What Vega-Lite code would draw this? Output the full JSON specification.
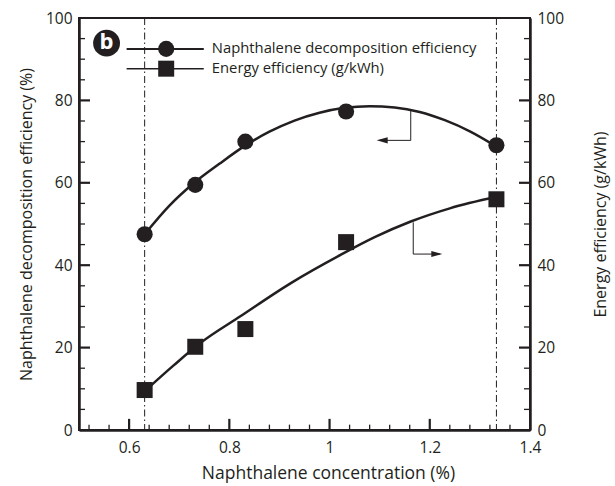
{
  "$schema": "https://vega.github.io/schema/vega-lite/v6.json",
  "width": 451,
  "height": 412,
  "autosize": "none",
  "padding": {"left": 79, "top": 18, "right": 85, "bottom": 56},
  "background": "white",
  "config": {
    "view": {"stroke": "#231f20", "strokeWidth": 2},
    "font": "Open Sans",
    "axis": {"labelFont": "Open Sans", "titleFont": "Open Sans", "labelColor": "#231f20", "titleColor": "#231f20", "titleFontWeight": "normal", "domainColor": "#231f20", "domainWidth": 2.5, "grid": false, "labelOverlap": false, "ticks": false}
  },
  "datasets": {
    "points": [
      {"conc": 0.631, "value": 47.5, "series": "Naphthalene decomposition efficiency"},
      {"conc": 0.732, "value": 59.5, "series": "Naphthalene decomposition efficiency"},
      {"conc": 0.832, "value": 70.0, "series": "Naphthalene decomposition efficiency"},
      {"conc": 1.033, "value": 77.3, "series": "Naphthalene decomposition efficiency"},
      {"conc": 1.333, "value": 69.1, "series": "Naphthalene decomposition efficiency"},
      {"conc": 0.631, "value": 9.7, "series": "Energy efficiency (g/kWh)"},
      {"conc": 0.732, "value": 20.2, "series": "Energy efficiency (g/kWh)"},
      {"conc": 0.832, "value": 24.5, "series": "Energy efficiency (g/kWh)"},
      {"conc": 1.033, "value": 45.6, "series": "Energy efficiency (g/kWh)"},
      {"conc": 1.333, "value": 56.0, "series": "Energy efficiency (g/kWh)"}
    ],
    "fitDecomp": [
      {"conc": 0.631, "value": 47.5}, {"conc": 0.68, "value": 54.4}, {"conc": 0.73, "value": 60.0},
      {"conc": 0.78, "value": 64.6}, {"conc": 0.83, "value": 68.9}, {"conc": 0.88, "value": 72.4},
      {"conc": 0.93, "value": 75.1}, {"conc": 0.98, "value": 77.0}, {"conc": 1.03, "value": 78.2},
      {"conc": 1.08, "value": 78.6}, {"conc": 1.13, "value": 78.3}, {"conc": 1.18, "value": 77.2},
      {"conc": 1.23, "value": 75.2}, {"conc": 1.28, "value": 72.5}, {"conc": 1.333, "value": 68.8}
    ],
    "fitEnergy": [
      {"conc": 0.631, "value": 9.4}, {"conc": 0.69, "value": 15.8}, {"conc": 0.742, "value": 21.1},
      {"conc": 0.822, "value": 27.6}, {"conc": 0.922, "value": 35.6}, {"conc": 1.022, "value": 42.5},
      {"conc": 1.09, "value": 46.8}, {"conc": 1.162, "value": 50.6}, {"conc": 1.24, "value": 53.8},
      {"conc": 1.333, "value": 56.6}
    ],
    "refs": [{"conc": 0.631}, {"conc": 1.333}],
    "yTicks": [
      {"v": 5, "major": false}, {"v": 10, "major": false}, {"v": 15, "major": false}, {"v": 20, "major": true},
      {"v": 25, "major": false}, {"v": 30, "major": false}, {"v": 35, "major": false}, {"v": 40, "major": true},
      {"v": 45, "major": false}, {"v": 50, "major": false}, {"v": 55, "major": false}, {"v": 60, "major": true},
      {"v": 65, "major": false}, {"v": 70, "major": false}, {"v": 75, "major": false}, {"v": 80, "major": true},
      {"v": 85, "major": false}, {"v": 90, "major": false}, {"v": 95, "major": false}
    ],
    "xTicks": [
      {"v": 0.52, "major": false}, {"v": 0.56, "major": false}, {"v": 0.6, "major": true}, {"v": 0.64, "major": false},
      {"v": 0.68, "major": false}, {"v": 0.72, "major": false}, {"v": 0.76, "major": false}, {"v": 0.8, "major": true},
      {"v": 0.84, "major": false}, {"v": 0.88, "major": false}, {"v": 0.92, "major": false}, {"v": 0.96, "major": false},
      {"v": 1.0, "major": true}, {"v": 1.04, "major": false}, {"v": 1.08, "major": false}, {"v": 1.12, "major": false},
      {"v": 1.16, "major": false}, {"v": 1.2, "major": true}, {"v": 1.24, "major": false}, {"v": 1.28, "major": false},
      {"v": 1.32, "major": false}, {"v": 1.36, "major": false}
    ],
    "arrowRules": [
      {"x": 1.162, "x2": 1.162, "y": 77.7, "y2": 70.3},
      {"x": 1.162, "x2": 1.1, "y": 70.3, "y2": 70.3},
      {"x": 1.167, "x2": 1.167, "y": 50.4, "y2": 42.7},
      {"x": 1.167, "x2": 1.22, "y": 42.7, "y2": 42.7}
    ],
    "legendRows": [
      {"x": 0.595, "x2": 0.749, "y": 92.5, "sx": 0.674, "label": "Naphthalene decomposition efficiency", "w": 2},
      {"x": 0.595, "x2": 0.749, "y": 87.7, "sx": 0.674, "label": "Energy efficiency (g/kWh)", "w": 1.5}
    ]
  },
  "resolve": {"axis": {"y": "independent"}},
  "layer": [
    {
      "data": {"name": "refs"},
      "mark": {"type": "rule", "color": "#231f20", "strokeWidth": 1, "strokeDash": [7, 3, 1.5, 3]},
      "encoding": {
        "x": {"field": "conc", "type": "quantitative", "scale": {"domain": [0.5, 1.4], "nice": false, "zero": false},
          "title": "Naphthalene concentration (%)",
          "axis": {
            "values": [0.6, 0.8, 1.0, 1.2, 1.4],
            "tickCount": 100, "ticks": false, "labelOverlap": false,
            "labelExpr": "toString(round(datum.value*10)/10)",
            "labelPadding": 10, "labelFontSize": 15.5, "labelBaseline": "top", "labelFlush": false,
            "titleFontSize": 17.5, "titleX": 249, "titleY": 43, "titleBaseline": "middle", "titleAlign": "center"
          }}
      }
    },
    {
      "data": {"name": "fitDecomp"},
      "mark": {"type": "line", "color": "#231f20", "strokeWidth": 2.5, "interpolate": "monotone"},
      "encoding": {
        "x": {"field": "conc", "type": "quantitative"},
        "y": {"field": "value", "type": "quantitative", "scale": {"domain": [0, 100], "nice": false},
          "title": "Naphthalene decomposition efficiency (%)",
          "axis": {
            "orient": "left", "ticks": false, "tickCount": 100, "labelOverlap": false,
            "values": [0, 20, 40, 60, 80, 100],
            "labelPadding": 7, "labelFontSize": 15.5, "labelFlush": false,
            "titleFontSize": 16, "titleX": -53, "titleY": 206, "titleAngle": -90, "titleAlign": "center", "titleBaseline": "middle"
          }}
      }
    },
    {
      "data": {"name": "fitEnergy"},
      "mark": {"type": "line", "color": "#231f20", "strokeWidth": 2.5, "interpolate": "monotone"},
      "encoding": {
        "x": {"field": "conc", "type": "quantitative"},
        "y": {"field": "value", "type": "quantitative", "scale": {"domain": [0, 100], "nice": false},
          "title": "Energy efficiency (g/kWh)",
          "axis": {
            "orient": "right", "ticks": false, "tickCount": 100, "labelOverlap": false,
            "values": [0, 20, 40, 60, 80, 100],
            "labelPadding": 7, "labelFontSize": 15.5, "labelFlush": false,
            "titleFontSize": 16, "titleX": 70, "titleY": 206, "titleAngle": -90, "titleAlign": "center", "titleBaseline": "middle"
          }}
      }
    },
    {
      "data": {"name": "yTicks"},
      "transform": [{"filter": "datum.major"}],
      "mark": {"type": "rule", "color": "#231f20", "strokeWidth": 2.2},
      "encoding": {
        "x": {"datum": 0.5, "type": "quantitative"},
        "x2": {"datum": 0.522},
        "y": {"field": "v", "type": "quantitative", "axis": null}
      }
    },
    {
      "data": {"name": "yTicks"},
      "transform": [{"filter": "!datum.major"}],
      "mark": {"type": "rule", "color": "#231f20", "strokeWidth": 1.3},
      "encoding": {
        "x": {"datum": 0.5, "type": "quantitative"},
        "x2": {"datum": 0.512},
        "y": {"field": "v", "type": "quantitative", "axis": null}
      }
    },
    {
      "data": {"name": "yTicks"},
      "transform": [{"filter": "datum.major"}],
      "mark": {"type": "rule", "color": "#231f20", "strokeWidth": 2.2},
      "encoding": {
        "x": {"datum": 1.4, "type": "quantitative"},
        "x2": {"datum": 1.378},
        "y": {"field": "v", "type": "quantitative", "axis": null}
      }
    },
    {
      "data": {"name": "yTicks"},
      "transform": [{"filter": "!datum.major"}],
      "mark": {"type": "rule", "color": "#231f20", "strokeWidth": 1.3},
      "encoding": {
        "x": {"datum": 1.4, "type": "quantitative"},
        "x2": {"datum": 1.388},
        "y": {"field": "v", "type": "quantitative", "axis": null}
      }
    },
    {
      "data": {"name": "xTicks"},
      "transform": [{"filter": "datum.major"}],
      "mark": {"type": "rule", "color": "#231f20", "strokeWidth": 2.2},
      "encoding": {
        "x": {"field": "v", "type": "quantitative"},
        "y": {"datum": 0, "type": "quantitative", "axis": null},
        "y2": {"datum": 2.7}
      }
    },
    {
      "data": {"name": "xTicks"},
      "transform": [{"filter": "!datum.major"}],
      "mark": {"type": "rule", "color": "#231f20", "strokeWidth": 1.3},
      "encoding": {
        "x": {"field": "v", "type": "quantitative"},
        "y": {"datum": 0, "type": "quantitative", "axis": null},
        "y2": {"datum": 1.3}
      }
    },
    {
      "data": {"name": "points"},
      "transform": [{"filter": "datum.series === 'Naphthalene decomposition efficiency'"}],
      "mark": {"type": "point", "shape": "circle", "filled": true, "color": "#231f20", "opacity": 1, "size": 260},
      "encoding": {
        "x": {"field": "conc", "type": "quantitative"},
        "y": {"field": "value", "type": "quantitative", "axis": null}
      }
    },
    {
      "data": {"name": "points"},
      "transform": [{"filter": "datum.series === 'Energy efficiency (g/kWh)'"}],
      "mark": {"type": "point", "shape": "square", "filled": true, "color": "#231f20", "opacity": 1, "size": 256},
      "encoding": {
        "x": {"field": "conc", "type": "quantitative"},
        "y": {"field": "value", "type": "quantitative", "axis": null}
      }
    },
    {
      "data": {"name": "arrowRules"},
      "mark": {"type": "rule", "color": "#231f20", "strokeWidth": 1},
      "encoding": {
        "x": {"field": "x", "type": "quantitative"},
        "x2": {"field": "x2"},
        "y": {"field": "y", "type": "quantitative", "axis": null},
        "y2": {"field": "y2"}
      }
    },
    {
      "data": {"values": [{"x": 1.105, "y": 70.3}]},
      "mark": {"type": "point", "shape": "M-1,0L1,-0.55L1,0.55Z", "filled": true, "color": "#231f20", "opacity": 1, "size": 121},
      "encoding": {
        "x": {"field": "x", "type": "quantitative"},
        "y": {"field": "y", "type": "quantitative", "axis": null}
      }
    },
    {
      "data": {"values": [{"x": 1.214, "y": 42.7}]},
      "mark": {"type": "point", "shape": "M1,0L-1,-0.55L-1,0.55Z", "filled": true, "color": "#231f20", "opacity": 1, "size": 121},
      "encoding": {
        "x": {"field": "x", "type": "quantitative"},
        "y": {"field": "y", "type": "quantitative", "axis": null}
      }
    },
    {
      "data": {"name": "legendRows"},
      "mark": {"type": "rule", "color": "#231f20"},
      "encoding": {
        "x": {"field": "x", "type": "quantitative"},
        "x2": {"field": "x2"},
        "y": {"field": "y", "type": "quantitative", "axis": null},
        "strokeWidth": {"field": "w", "type": "quantitative", "scale": null, "legend": null}
      }
    },
    {
      "data": {"name": "legendRows"},
      "transform": [{"filter": "datum.y > 90"}],
      "mark": {"type": "point", "shape": "circle", "filled": true, "color": "#231f20", "opacity": 1, "size": 260},
      "encoding": {
        "x": {"field": "sx", "type": "quantitative"},
        "y": {"field": "y", "type": "quantitative", "axis": null}
      }
    },
    {
      "data": {"name": "legendRows"},
      "transform": [{"filter": "datum.y < 90"}],
      "mark": {"type": "point", "shape": "square", "filled": true, "color": "#231f20", "opacity": 1, "size": 256},
      "encoding": {
        "x": {"field": "sx", "type": "quantitative"},
        "y": {"field": "y", "type": "quantitative", "axis": null}
      }
    },
    {
      "data": {"name": "legendRows"},
      "mark": {"type": "text", "align": "left", "baseline": "middle", "font": "Open Sans", "fontSize": 14.8, "color": "#231f20"},
      "encoding": {
        "x": {"datum": 0.765, "type": "quantitative"},
        "y": {"field": "y", "type": "quantitative", "axis": null},
        "text": {"field": "label"}
      }
    },
    {
      "data": {"values": [{"x": 0.555, "y": 93.9, "t": "b"}]},
      "mark": {"type": "point", "shape": "circle", "filled": true, "color": "#231f20", "opacity": 1, "size": 720},
      "encoding": {
        "x": {"field": "x", "type": "quantitative"},
        "y": {"field": "y", "type": "quantitative", "axis": null}
      }
    },
    {
      "data": {"values": [{"x": 0.555, "y": 93.9, "t": "b"}]},
      "mark": {"type": "text", "align": "center", "baseline": "middle", "font": "Open Sans", "fontSize": 22, "fontWeight": "bold", "color": "white", "dy": -1},
      "encoding": {
        "x": {"field": "x", "type": "quantitative"},
        "y": {"field": "y", "type": "quantitative", "axis": null},
        "text": {"field": "t"}
      }
    }
  ]
}
